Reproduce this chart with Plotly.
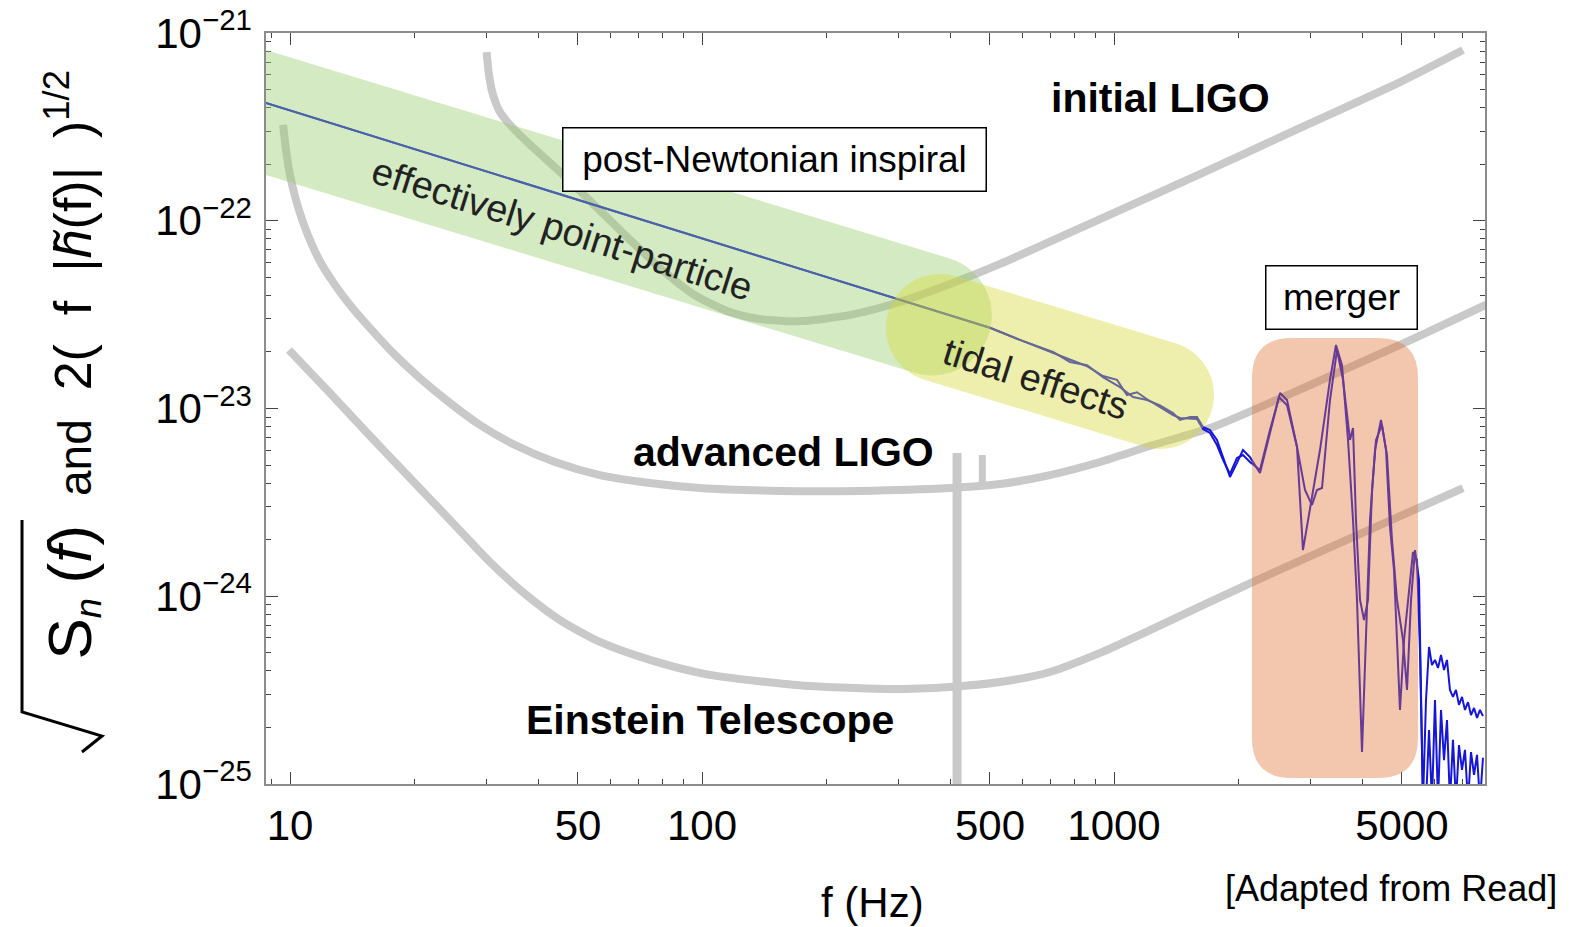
import numpy as np
import plotly.graph_objects as go

# ---------------- page / plot-area geometry (pixels) ----------------
W, H = 1572, 927
PL, PR, PT, PB = 266, 1485, 33, 784
XR = [0.9417, 3.9005]      # log10(f / Hz)
YR = [-25, -21]            # log10(strain)

# ---------------- data ----------------
# initial LIGO noise curve
iligo_f = [30, 30.41, 31.1, 32.33, 34.2, 37.6, 45.2, 54.4, 65.8, 79.1, 95.1, 115, 138, 173,
           229, 302, 400, 529, 925, 1617, 2829, 4946, 7034]
iligo_h = [7.92e-22, 5.97e-22, 4.68e-22, 3.79e-22, 3.24e-22, 2.63e-22, 1.82e-22, 1.23e-22,
           8.19e-23, 5.60e-23, 4.07e-23, 3.31e-23, 3.00e-23, 2.92e-23, 3.15e-23, 3.69e-23,
           4.60e-23, 5.89e-23, 1.02e-22, 1.77e-22, 3.12e-22, 5.48e-22, 8.12e-22]

# advanced LIGO noise curve
aligo_f = [9.62, 9.78, 10.0, 10.34, 10.75, 11.31, 11.96, 12.86, 13.98, 15.64, 17.98, 20.68,
           24.45, 28.92, 35.17, 43.97, 56.55, 74.78, 98.9, 154.7, 241.8, 400, 529, 699, 925,
           1243, 1710, 2570, 3741, 5438, 8176]
aligo_h = [3.24e-22, 2.38e-22, 1.75e-22, 1.29e-22, 9.85e-23, 7.43e-23, 5.81e-23, 4.55e-23,
           3.56e-23, 2.68e-23, 1.93e-23, 1.45e-23, 1.07e-23, 8.17e-24, 6.39e-24, 5.19e-24,
           4.42e-24, 4.01e-24, 3.77e-24, 3.64e-24, 3.64e-24, 3.77e-24, 3.96e-24, 4.42e-24,
           5.19e-24, 6.39e-24, 7.87e-24, 1.15e-23, 1.66e-23, 2.40e-23, 3.65e-23]

# Einstein Telescope noise curve
et_f = [9.94, 12.5, 15.64, 19.55, 24.45, 30.59, 37.18, 45.21, 56.55, 74.78, 102, 169, 278,
        400, 529, 699, 925, 1223, 2223, 7034]
et_h = [2.05e-23, 1.21e-23, 7.14e-24, 4.26e-24, 2.55e-24, 1.52e-24, 1.03e-24, 7.47e-25,
        5.71e-25, 4.58e-25, 3.85e-25, 3.37e-25, 3.21e-25, 3.29e-25, 3.49e-25, 3.95e-25,
        4.99e-25, 6.61e-25, 1.22e-24, 3.77e-24]

# narrow (violin-mode) spikes
spike1_f = [416, 416]
spike1_h = [5.79e-24, 8e-26]
spike2_f = [479, 479]
spike2_h = [5.65e-24, 3.96e-24]

# waveform A: 2 (f |h(f)|)^1/2
wfa_f = [8.74, 50, 500, 591, 711, 782, 860, 940, 1034, 1112, 1203, 1293, 1391, 1446, 1529,
         1590, 1644, 1710, 1778, 1839, 1912, 1988, 2056, 2138, 2261, 2391, 2529, 2630, 2781,
         2875, 2990, 3162, 3344, 3458, 3576, 3698, 3803, 3889, 3999, 4090, 4182, 4301, 4447,
         4574, 4676, 4782, 4945, 5058, 5172, 5318, 5438, 5529, 5623]
wfa_h = [4.24e-22, 1.29e-22, 2.69e-23, 2.32e-23, 2.00e-23, 1.77e-23, 1.70e-23, 1.47e-23,
         1.30e-23, 1.15e-23, 1.11e-23, 1.04e-23, 9.46e-24, 8.69e-24, 9.01e-24, 9.01e-24,
         7.97e-24, 7.68e-24, 6.80e-24, 5.51e-24, 4.32e-24, 5.13e-24, 6.01e-24, 5.51e-24,
         4.53e-24, 7.41e-24, 1.21e-23, 1.11e-23, 6.24e-24, 1.76e-24, 2.88e-24, 6.01e-24,
         1.42e-23, 2.18e-23, 1.70e-23, 6.80e-24, 2.55e-24, 9.55e-25, 1.48e-25, 5.85e-25,
         2.55e-24, 6.01e-24, 8.69e-24, 6.01e-24, 2.34e-24, 1.38e-24, 2.48e-25, 5.85e-25,
         9.55e-25, 1.72e-24, 1.56e-24, 5.17e-25, 8e-26]

# waveform B (second, nearly overlapping model)
wfb_f = [8.74, 50, 500, 591, 711, 782, 860, 940, 1017, 1075, 1137, 1203, 1293, 1391, 1446,
         1529, 1590, 1644, 1710, 1778, 1839, 1912, 1988, 2056, 2138, 2261, 2391, 2515, 2630,
         2781, 2908, 3024, 3109, 3198, 3344, 3478, 3596, 3740, 3803, 3867, 3955, 4045, 4135,
         4229, 4325, 4472, 4598, 4729, 4863, 5029, 5143, 5259, 5378, 5499, 5623]
wfb_h = [4.24e-22, 1.29e-22, 2.69e-23, 2.32e-23, 1.97e-23, 1.81e-23, 1.68e-23, 1.49e-23,
         1.42e-23, 1.18e-23, 1.22e-23, 1.12e-23, 1.02e-23, 9.23e-24, 8.90e-24, 8.79e-24,
         8.79e-24, 7.78e-24, 7.41e-24, 6.39e-24, 5.32e-24, 4.48e-24, 5.45e-24, 5.65e-24,
         5.19e-24, 4.70e-24, 7.68e-24, 1.15e-23, 1.04e-23, 6.24e-24, 3.68e-24, 3.06e-24,
         3.68e-24, 3.77e-24, 1.11e-23, 2.05e-23, 1.42e-23, 6.80e-24, 7.87e-24, 2.55e-24,
         9.55e-25, 7.47e-25, 9.55e-25, 3.68e-24, 6.80e-24, 8.17e-24, 5.65e-24, 1.99e-24,
         9.55e-25, 5.85e-25, 3.17e-25, 9.55e-25, 1.76e-24, 1.22e-24, 8e-26]

# post-merger tails
tail_f = [5719, 5816, 5913, 6013, 6116, 6219, 6324, 6430, 6538, 6649, 6761, 6876, 6993, 7110,
          7232, 7354, 7479, 7605, 7732, 7863]
tail_a_h = [2.80e-25, 5.37e-25, 4.30e-25, 4.58e-25, 4.15e-25, 4.87e-25, 4.05e-25, 4.58e-25,
            3.17e-25, 2.91e-25, 3.17e-25, 2.64e-25, 2.91e-25, 2.48e-25, 2.73e-25, 2.33e-25,
            2.54e-25, 2.25e-25, 2.48e-25, 2.30e-25]
tail_b_h = [8e-26, 1.94e-25, 8e-26, 2.80e-25, 8e-26, 2.48e-25, 1.34e-25, 2.19e-25, 8e-26,
            1.72e-25, 8e-26, 1.61e-25, 1.19e-25, 1.52e-25, 8e-26, 1.48e-25, 1.12e-25,
            1.43e-25, 8e-26, 1.38e-25]

x_tickvals = [10, 50, 100, 500, 1000, 5000]
x_ticktext = ["10", "50", "100", "500", "1000", "5000"]
y_tickvals = [1e-25, 1e-24, 1e-23, 1e-22, 1e-21]
y_ticktext = ["10<sup>\u221225</sup>", "10<sup>\u221224</sup>", "10<sup>\u221223</sup>",
              "10<sup>\u221222</sup>", "10<sup>\u221221</sup>"]

# ---------------- styles ----------------
FONT = "Liberation Sans, Arial, sans-serif"
GREY = "#c9c9c9"
BLUE = "#1616d8"


def px2x(px):
    return (px - PL) / (PR - PL)


def py2y(py):
    return (PB - py) / (PB - PT)


def capsule_path(p0, p1, r, flat_left=False):
    (x0, y0), (x1, y1) = p0, p1
    th = np.arctan2(y1 - y0, x1 - x0)
    pts = []
    for phi in np.linspace(-np.pi / 2, np.pi / 2, 31):
        pts.append((x1 + r * np.cos(th + phi), y1 + r * np.sin(th + phi)))
    if flat_left:
        half = r / np.cos(th)
        pts.append((x0, y0 + half))
        pts.append((x0, y0 - half))
    else:
        for phi in np.linspace(np.pi / 2, 3 * np.pi / 2, 31):
            pts.append((x0 + r * np.cos(th + phi), y0 + r * np.sin(th + phi)))
    return "M " + " L ".join(f"{px2x(a):.5f},{py2y(b):.5f}" for a, b in pts) + " Z"


def rounded_rect_path(x0, y0, x1, y1, r):
    X = lambda v: f"{px2x(v):.5f}"
    Y = lambda v: f"{py2y(v):.5f}"
    return (f"M {X(x0 + r)},{Y(y0)} L {X(x1 - r)},{Y(y0)} Q {X(x1)},{Y(y0)} {X(x1)},{Y(y0 + r)} "
            f"L {X(x1)},{Y(y1 - r)} Q {X(x1)},{Y(y1)} {X(x1 - r)},{Y(y1)} "
            f"L {X(x0 + r)},{Y(y1)} Q {X(x0)},{Y(y1)} {X(x0)},{Y(y1 - r)} "
            f"L {X(x0)},{Y(y0 + r)} Q {X(x0)},{Y(y0)} {X(x0 + r)},{Y(y0)} Z")


def polyline_path(pts):
    return "M " + " L ".join(f"{px2x(a):.5f},{py2y(b):.5f}" for a, b in pts)


fig = go.Figure()

grey_line = dict(color=GREY, width=8, shape="spline", smoothing=0.7)
fig.add_trace(go.Scatter(x=iligo_f, y=iligo_h, mode="lines", line=grey_line))
fig.add_trace(go.Scatter(x=aligo_f, y=aligo_h, mode="lines", line=grey_line))
fig.add_trace(go.Scatter(x=et_f, y=et_h, mode="lines", line=grey_line))
fig.add_trace(go.Scatter(x=spike1_f, y=spike1_h, mode="lines", line=dict(color=GREY, width=9)))
fig.add_trace(go.Scatter(x=spike2_f, y=spike2_h, mode="lines", line=dict(color=GREY, width=7)))

fig.add_trace(go.Scatter(x=wfa_f + tail_f, y=wfa_h + tail_a_h, mode="lines",
                         line=dict(color=BLUE, width=2)))
fig.add_trace(go.Scatter(x=wfb_f + tail_f, y=wfb_h + tail_b_h, mode="lines",
                         line=dict(color=BLUE, width=2)))

shapes = [
    dict(type="path", xref="paper", yref="paper", layer="above", line=dict(width=0),
         fillcolor="rgba(150,205,110,0.42)",
         path=capsule_path((266, 112.5), (932, 315.6), 59.8, flat_left=True)),
    dict(type="path", xref="paper", yref="paper", layer="above", line=dict(width=0),
         fillcolor="rgba(218,218,60,0.42)",
         path=capsule_path((940, 328), (1160, 395), 54)),
    dict(type="path", xref="paper", yref="paper", layer="above", line=dict(width=0),
         fillcolor="rgba(226,112,52,0.40)",
         path=rounded_rect_path(1252, 338, 1418, 778, 40)),
    # square-root sign of the y title (radical + vinculum)
    dict(type="path", xref="paper", yref="paper", layer="above",
         line=dict(color="black", width=3),
         path=polyline_path([(22, 520), (22, 712), (102, 736), (82, 752)])),
]


def ann(text, cx, cy, size, bold=False, angle=0, color="black", **kw):
    d = dict(text=f"<b>{text}</b>" if bold else text, x=px2x(cx), y=py2y(cy),
             xref="paper", yref="paper", showarrow=False, xanchor="center",
             yanchor="middle", textangle=angle,
             font=dict(family=FONT, size=size, color=color))
    d.update(kw)
    return d


NB = "\u00a0"
ytitle = ("<span style='font-size:62px'>S</span><sub><i>n</i></sub>" + NB +
          "<span style='font-size:62px'>(<i>f</i>)</span>" + NB * 2 +
          "<span style='font-size:46px'>and</span>" + NB * 2 +
          "2(" + NB * 2 + "f" + NB * 2 + "|<i>h\u0303</i>(f)|" + NB * 2 + ")<sup>1/2</sup>")

annotations = [
    ann("initial LIGO", 1160, 98, 41, bold=True),
    ann("advanced LIGO", 783, 452, 41, bold=True),
    ann("Einstein Telescope", 710, 720, 41, bold=True),
    ann("post-Newtonian inspiral", 774.5, 160, 37, bgcolor="white", bordercolor="black",
        borderwidth=1.5, width=420, height=60),
    ann("merger", 1341.5, 297.5, 37, bgcolor="white", bordercolor="black",
        borderwidth=1.5, width=148, height=60),
    ann("effectively point-particle", 562, 229, 38, angle=17.5, color="#222"),
    ann("tidal effects", 1036, 379, 38, angle=17.5, color="#222"),
    ann("f (Hz)", 872, 903, 42),
    ann("[Adapted from Read]", 1391, 889, 36),
    ann(ytitle, 72, 662, 52, angle=-90, yanchor="bottom"),
]

x_minor = [9, 20, 30, 40, 60, 70, 80, 90, 200, 300, 400, 600, 700, 800, 900, 2000, 3000,
           4000, 6000, 7000]
y_minor = [m * 10.0 ** e for e in range(-25, -21) for m in range(2, 10)]

axis_common = dict(showline=True, linecolor="#8c8c8c", linewidth=1.5, mirror="ticks",
                   ticks="inside", ticklen=12, tickwidth=1, tickcolor="#444",
                   showgrid=False, zeroline=False,
                   tickfont=dict(family=FONT, size=42, color="black"))

fig.update_layout(
    width=W, height=H,
    margin=dict(l=PL, r=W - PR, t=PT, b=H - PB, autoexpand=False),
    paper_bgcolor="white", plot_bgcolor="white",
    showlegend=False,
    xaxis=dict(type="log", range=XR, tickmode="array", tickvals=x_tickvals, ticktext=x_ticktext,
               ticklabelstandoff=4,
               minor=dict(ticks="inside", ticklen=5, tickcolor="#444", tickmode="array",
                          tickvals=x_minor, showgrid=False),
               **axis_common),
    yaxis=dict(type="log", range=YR, tickmode="array", tickvals=y_tickvals, ticktext=y_ticktext,
               ticklabelstandoff=4,
               minor=dict(ticks="inside", ticklen=5, tickcolor="#444", tickmode="array",
                          tickvals=y_minor, showgrid=False),
               **axis_common),
    shapes=shapes,
    annotations=annotations,
)

fig.write_html("out.html")
